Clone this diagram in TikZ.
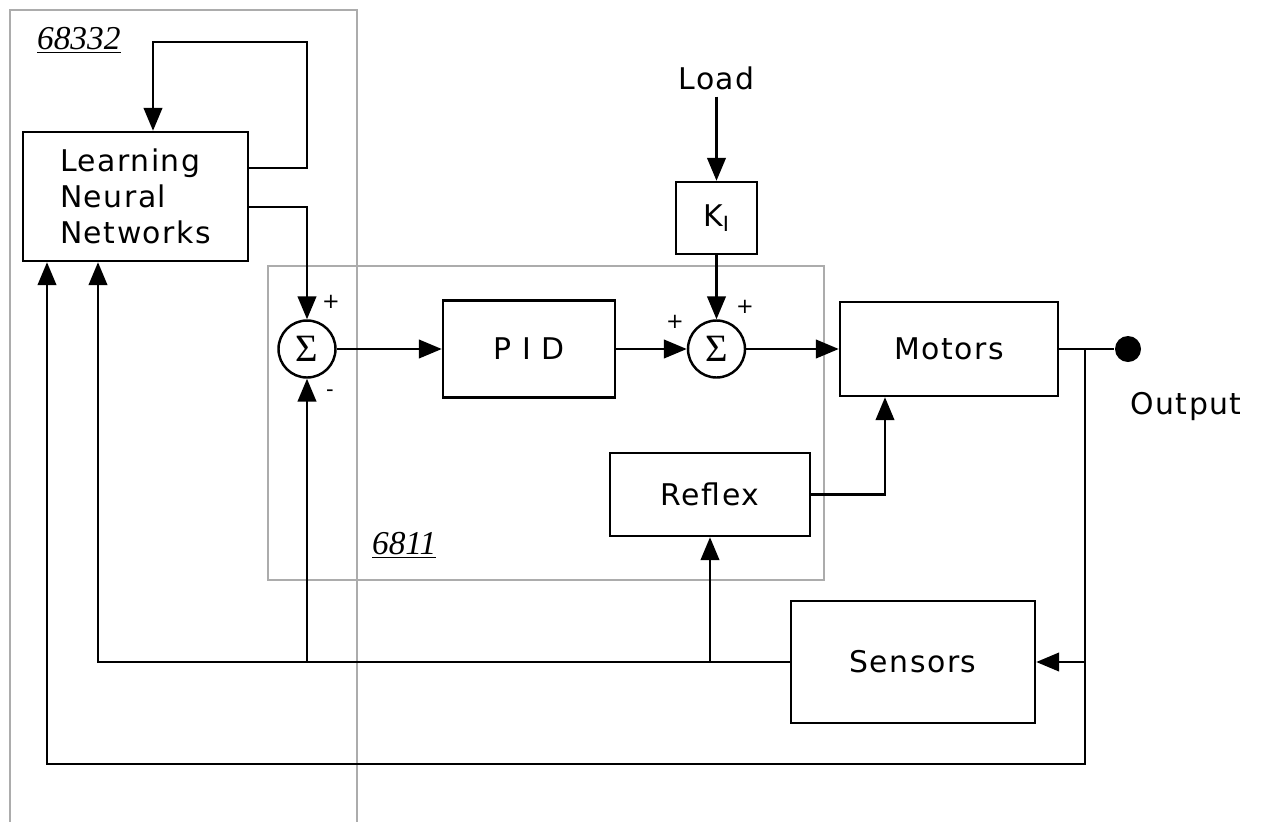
\documentclass[tikz,border=0pt]{standalone}
\usepackage{fontspec}
\setmainfont{DejaVu Sans}[LetterSpace=5]
\newfontfamily\chipfont{Liberation Serif}
\usetikzlibrary{arrows.meta, calc}

\begin{document}
\begin{tikzpicture}[
	x=0.2mm,
	y=-0.2mm,
	font=\fontsize{17}{20.5}\selectfont,
	line width=1.4pt,
	blk/.style={
		draw,
		inner sep=0pt,
		align=center
	},
	sumnode/.style={
		draw,
		circle,
		minimum size=11.4mm,
		inner sep=0pt,
		font=\chipfont\fontsize{22}{22}\selectfont
	},
	chip/.style={draw=gray!65, line width=0.7pt},
	chiplabel/.style={anchor=west, font=\chipfont\itshape\fontsize{19}{19}\selectfont},
	sign/.style={font=\fontsize{12}{12}\selectfont},
	arr/.style={-{Triangle[length=13pt, width=10.5pt]}}
	]
	\useasboundingbox (0,0) rectangle (1264,822);

	% processor boundaries
	\draw[chip] (10,822) |- (357,10) -- (357,822);
	\draw[chip] (268,266) rectangle (824,580);
	\node[chiplabel] (lab68332) at (30,40) {\underline{68332}};
	\node[chiplabel] (lab6811) at (365,545) {\underline{6811}};

	% blocks
	\node[blk, align=left, minimum width=45mm, minimum height=25.8mm] (lnn) at (135.5,196.5) {Learning\\Neural\\Networks};
	\node[blk, minimum width=16.2mm, minimum height=14.4mm] (ki) at (716.5,218) {K\textsubscript{I}};
	\node (load) at (716.5,78) {Load};
	\node[sumnode] (sum1) at (307,349) {Σ};
	\node[blk, minimum width=34.4mm, minimum height=19.4mm] (pid) at (529,349) {P I D};
	\node[sumnode] (sum2) at (716.5,349) {Σ};
	\node[blk, minimum width=43.6mm, minimum height=18.8mm] (motors) at (949,349) {Motors};
	\node[blk, minimum width=40mm, minimum height=16.6mm] (reflex) at (710,494.5) {Reflex};
	\node[blk, minimum width=48.8mm, minimum height=24.4mm] (sensors) at (913,662) {Sensors};
	\node[circle, fill, minimum size=5.2mm, inner sep=0pt] (dot) at (1128,349) {};
	\node (output) at (1186,407) {Output};

	% signs at the summing junctions
	\node[sign] (s1p) at (331,302) {+};
	\node[sign] (s1m) at (330,393) {-};
	\node[sign] (s2l) at (675,322) {+};
	\node[sign] (s2t) at (745,307) {+};

	% junction points
	\coordinate (loop) at (307,42);
	\coordinate (br) at (1085,349);
	\coordinate (fb1) at (98,662);
	\coordinate (fb2) at (47,764);

	% forward path
	\draw[arr] (lnn.east |- 0,168) -| (loop) -| ($(lnn.north)+(17.5,0)$);
	\draw[arr] (lnn.east |- 0,207) -| (sum1.north);
	\draw[arr] (sum1.east) -- (pid.west);
	\draw[arr] (pid.east) -- (sum2.west);
	\draw[arr] (load.south) -- (ki.north);
	\draw[arr] (ki.south) -- (sum2.north);
	\draw[arr] (sum2.east) -- (motors.west);
	\draw[arr] (reflex.east) -| ($(motors.south)+(-64,0)$);
	\draw (motors.east) -- (dot);

	% feedback paths
	\draw[arr] (br) |- (sensors.east);
	\draw[arr] (br) |- (fb2) -- (fb2 |- lnn.south);
	\draw[arr] (sensors.west) -- (fb1) -- (fb1 |- lnn.south);
	\draw[arr] (sum1.south |- fb1) -- (sum1.south);
	\draw[arr] (reflex.south |- fb1) -- (reflex.south);
\end{tikzpicture}
\end{document}
